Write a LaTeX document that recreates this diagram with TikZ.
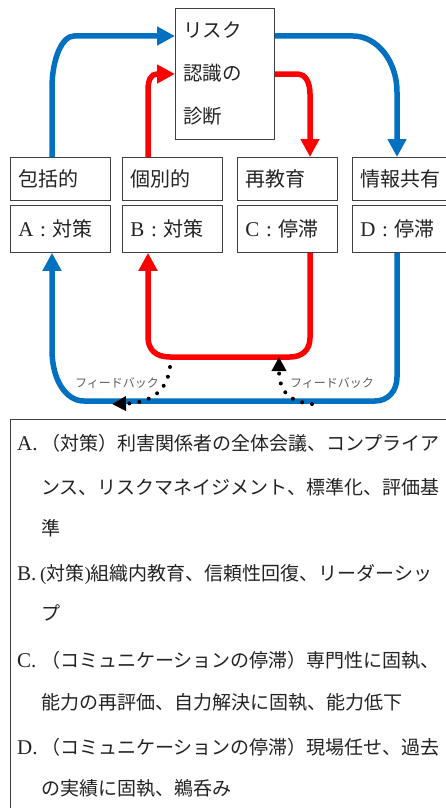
\documentclass[tikz,border=0pt]{standalone}
\usepackage{fontspec}
\setmainfont{Liberation Serif}
\newfontfamily\jp{Noto Sans CJK JP}
\usetikzlibrary{arrows.meta}
\definecolor{myblue}{RGB}{0,112,192}
\definecolor{myred}{RGB}{255,0,0}
\definecolor{boxgray}{RGB}{64,64,64}
\definecolor{txt}{RGB}{35,35,35}
\definecolor{fbgray}{RGB}{95,95,95}
\newcommand\latbig{\fontsize{21}{24}\selectfont}
\begin{document}
\begin{tikzpicture}[x=1pt,y=-1pt,
  box/.style={draw=boxgray, line width=0.8pt, anchor=north west, inner ysep=0pt, text=txt},
  rowbox/.style={box, minimum width=100pt, text width=84pt, inner xsep=8pt, align=left,
    font=\fontsize{20}{24}\selectfont},
  toprow/.style={rowbox, minimum height=43pt},
  botrow/.style={rowbox, minimum height=47pt},
  blueline/.style={draw=myblue, line width=5.5pt},
  redline/.style={draw=myred, line width=5.5pt},
  bigtip/.style={-{Triangle[length=18pt,width=18pt]}},
  fbarrow/.style={draw=black, line width=4pt, line cap=round, dash pattern=on 0pt off 10pt,
    -{Triangle[length=14pt,width=14pt]}},
  fblabel/.style={font=\fontsize{12}{14}\selectfont\jp, text=fbgray, inner sep=0pt},
  legtext/.style={anchor=base west, inner sep=0pt, text=txt, font=\fontsize{19}{22}\selectfont}
]
\clip (0,0) rectangle (446,808);
\fill[white] (0,0) rectangle (446,808);

% top box
\node[box, minimum width=99pt, minimum height=131pt, text width=83pt, inner xsep=8pt, align=left,
  font=\fontsize{19.5}{43}\selectfont\jp] (top) at (175,8) {リスク\\認識の\\診断};

% row boxes
\node[toprow] (a1) at (10,157) {\jp 包括的};
\node[botrow] (a2) at (10,205) {{\latbig A :} {\jp 対策}};
\node[toprow] (b1) at (122,157) {\jp 個別的};
\node[botrow] (b2) at (122,205) {{\latbig B :} {\jp 対策}};
\node[toprow] (c1) at (237,157) {\jp 再教育};
\node[botrow] (c2) at (237,205) {{\latbig C :} {\jp 停滞}};
\node[toprow] (d1) at (352,157) {\jp 情報共有};
\node[botrow] (d2) at (352,205) {{\latbig D :} {\jp 停滞}};

% upper connectors
\draw[blueline, bigtip] (a1.north -| 52,0) -- (52,88) .. controls (52,59) and (62,36) .. (74,36)
  -- (top.west |- 0,36);
\draw[blueline, bigtip] (top.east |- 0,36) -- (353,36) .. controls (377,36) and (397,61) .. (397,92)
  -- (d1.north -| 397,0);
\draw[redline, bigtip] (b1.north -| 148,0) -- (148,90) .. controls (148,80) and (151,74) .. (157,74)
  -- (top.west |- 0,74);
\draw[redline, bigtip] (top.east |- 0,74) -- (298,74) .. controls (305,74) and (310,82) .. (310,94)
  -- (c1.north -| 310,0);

% lower connectors
\draw[redline, bigtip] (c2.south -| 310,0) -- (310,338) .. controls (310,350) and (302,357) .. (290,357)
  -- (170,357) .. controls (156,357) and (148,350) .. (148,337) -- (b2.south -| 148,0);
\draw[blueline, bigtip] (d2.south -| 397,0) -- (397,377) .. controls (397,391) and (388,401) .. (375,401)
  -- (84,401) .. controls (66,401) and (52,380) .. (52,350) -- (a2.south -| 52,0);

% feedback
\coordinate (fl0) at (170,367);
\coordinate (fl1) at (112,404);
\coordinate (fr0) at (312,404);
\coordinate (fr1) at (279,357);
\draw[fbarrow] (fl0) .. controls (167,392) and (150,403) .. (fl1);
\draw[fbarrow] (fr0) .. controls (290,402) and (279,392) .. (fr1);
\node[fblabel] (fbl) at (117,383) {フィードバック};
\node[fblabel] (fbr) at (332,383) {フィードバック};

% legend
\node[box, minimum width=440pt, minimum height=400pt] (leg) at (10,419) {};
\node[legtext] (la0) at (17,450) {\latbig A.};
\node[legtext] (la1) at (41,450) {\jp （対策）利害関係者の全体会議、コンプライア};
\node[legtext] (la2) at (41,494) {\jp ンス、リスクマネイジメント、標準化、評価基};
\node[legtext] (la3) at (41,535) {\jp 準};
\node[legtext] (lb0) at (17,580) {\latbig B.};
\node[legtext] (lb1) at (40,580) {({\jp 対策}){\jp 組織内教育、信頼性回復、リーダーシッ}};
\node[legtext] (lb2) at (41,620) {\jp プ};
\node[legtext] (lc0) at (17,667) {\latbig C.};
\node[legtext] (lc1) at (41,667) {\jp （コミュニケーションの停滞）専門性に固執、};
\node[legtext] (lc2) at (41,709) {\jp 能力の再評価、自力解決に固執、能力低下};
\node[legtext] (ld0) at (17,754) {\latbig D.};
\node[legtext] (ld1) at (41,754) {\jp （コミュニケーションの停滞）現場任せ、過去};
\node[legtext] (ld2) at (41,795) {\jp の実績に固執、鵜呑み};
\end{tikzpicture}
\end{document}
